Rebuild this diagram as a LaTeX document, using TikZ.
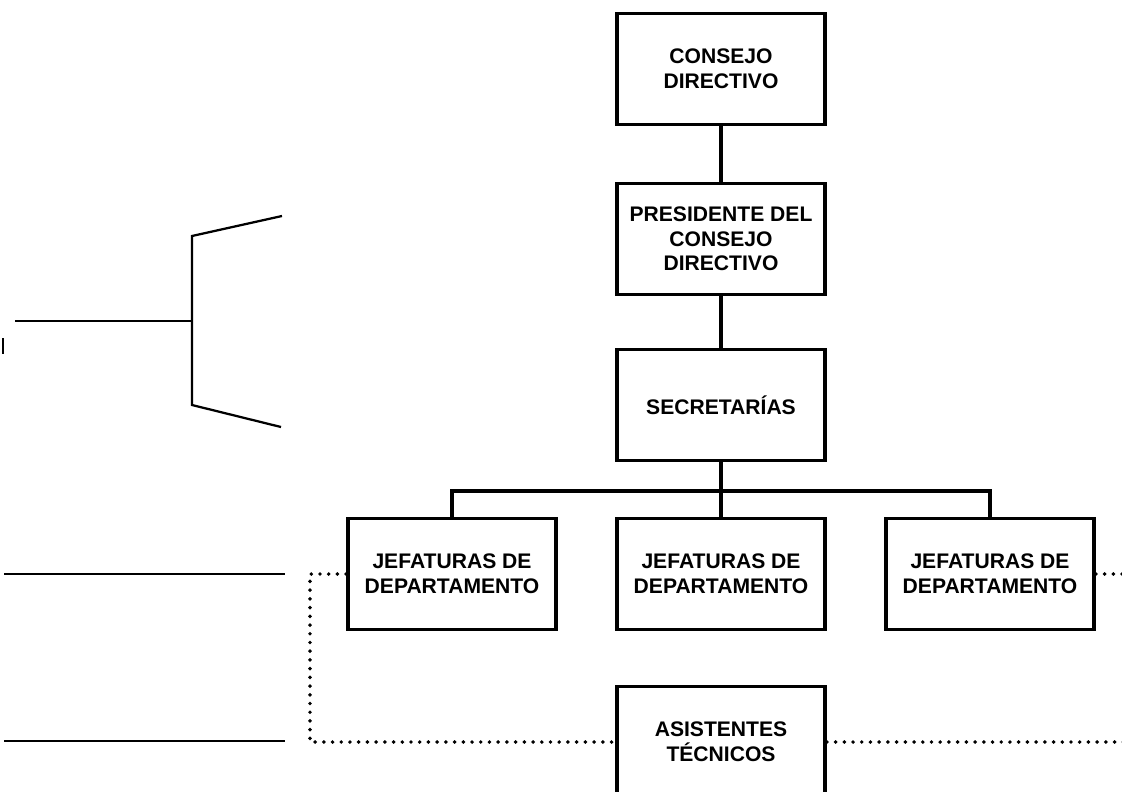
\documentclass[tikz,border=0pt]{standalone}
\usepackage{fontspec}
\setmainfont{Liberation Sans}

\begin{document}
\begin{tikzpicture}[x=0.025cm,y=-0.025cm,
    box/.style={draw,line width=2.6pt,minimum width=5.2cm,minimum height=2.78cm,
      inner sep=0pt,align=center,font=\bfseries\fontsize{15}{17.5}\selectfont},
    link/.style={line width=2.6pt},
    dots/.style={line width=2.8pt,line cap=round,dash pattern=on 0pt off 6.2pt},
    stub/.style={line width=1.6pt}]
          \useasboundingbox (0,0) rectangle (1122,791);
          \node[box] (consejo) at (721,69) {CONSEJO\\DIRECTIVO};
          \node[box] (presidente) at (721,239) {PRESIDENTE DEL\\CONSEJO\\DIRECTIVO};
          \node[box] (secretarias) at (721,405) {SECRETARÍAS};
          \node[box] (jefA) at (452,574) {JEFATURAS DE\\DEPARTAMENTO};
          \node[box] (jefB) at (721,574) {JEFATURAS DE\\DEPARTAMENTO};
          \node[box] (jefC) at (990,574) {JEFATURAS DE\\DEPARTAMENTO};
          \node[box] (asistentes) at (721,742) {ASISTENTES\\TÉCNICOS};
          \coordinate (bar) at (721,491);
          \coordinate (dotL) at (310,574);
          \coordinate (edgeR) at (1124,0);
          \draw[link] (consejo) -- (presidente);
          \draw[link] (presidente) -- (secretarias);
          \draw[link] (secretarias) -- (jefB);
          \draw[link] (jefA) |- (bar) -| (jefC);                          % tree bar
          \draw[dots] (jefA.west) -- (dotL) |- (asistentes.west);         % left dotted
          \draw[dots] (asistentes.east) -- (asistentes.east -| edgeR);
          \draw[dots] (jefC.east) -- (jefC.east -| edgeR);
          \draw[stub] (15,321) -- (192,321);                              % cut-off bracket
          \draw[stub] (282,216) -- (192,236) -- (192,405) -- (281,427);
          \draw[stub] (3,338) -- (3,354);
          \draw[stub] (4,574) -- (285,574)
          (4,741) -- (285,741);
        \end{tikzpicture}
\end{document}
